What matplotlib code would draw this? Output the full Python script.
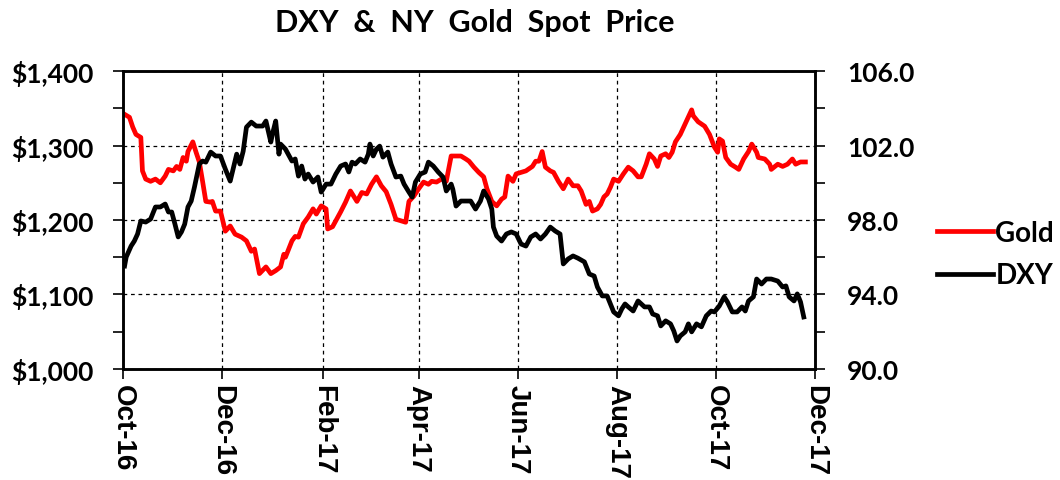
import matplotlib

matplotlib.use("Agg")
import numpy as np
import pandas as pd
import matplotlib.pyplot as plt
import matplotlib.dates as mdates
from matplotlib.ticker import MultipleLocator, FixedLocator, FuncFormatter
from matplotlib.lines import Line2D

# ---- values (day offsets from 2016-10-01) ----
START = pd.Timestamp("2016-10-01")

gold_day = [1, 4, 6, 8, 11, 12, 14, 17, 20, 23, 26, 28, 31, 33, 35, 37, 39, 40, 43, 45,
            47, 49, 51, 54, 55, 57, 60, 63, 66, 69, 73, 76, 79, 81, 84, 88, 91, 94, 97, 99,
            100, 104, 106, 108, 111, 114, 117, 119, 122, 125, 126, 129, 131, 134, 137, 140,
            144, 147, 150, 153, 156, 159, 162, 165, 168, 171, 174, 176, 179, 182, 185, 188,
            190, 193, 196, 199, 202, 205, 208, 211, 213, 216, 219, 222, 224, 227, 230, 233,
            235, 237, 240, 242, 245, 248, 252, 254, 256, 258, 260, 263, 265, 268, 271, 274,
            277, 280, 282, 285, 287, 289, 292, 294, 296, 298, 300, 302, 305, 308, 311, 314,
            317, 319, 322, 324, 327, 329, 331, 334, 336, 338, 340, 343, 346, 350, 351, 354,
            358, 361, 364, 366, 367, 369, 371, 374, 377, 379, 382, 385, 387, 390, 391, 395,
            398, 399, 403, 406, 409, 412, 414, 417, 420]
gold_px = [1342, 1338, 1325, 1315, 1311, 1266, 1255, 1252, 1255, 1250, 1259, 1268, 1266, 1272,
           1268, 1284, 1279, 1292, 1305, 1291, 1278, 1252, 1225, 1224, 1225, 1212, 1212, 1185,
           1192, 1181, 1177, 1172, 1158, 1161, 1128, 1137, 1128, 1132, 1137, 1154, 1150, 1172,
           1178, 1177, 1195, 1204, 1215, 1208, 1219, 1215, 1188, 1191, 1199, 1211, 1224, 1239,
           1225, 1237, 1235, 1248, 1258, 1246, 1238, 1221, 1201, 1199, 1197, 1225, 1232, 1242,
           1251, 1248, 1252, 1251, 1255, 1252, 1286, 1286, 1286, 1282, 1279, 1271, 1264, 1258,
           1242, 1225, 1219, 1228, 1231, 1259, 1252, 1262, 1264, 1266, 1272, 1279, 1279, 1292,
           1271, 1266, 1264, 1252, 1242, 1255, 1246, 1246, 1239, 1221, 1225, 1212, 1215, 1221,
           1231, 1235, 1244, 1255, 1252, 1262, 1271, 1266, 1258, 1258, 1275, 1289, 1282, 1272,
           1286, 1289, 1284, 1291, 1305, 1315, 1329, 1348, 1340, 1332, 1326, 1315, 1298, 1291,
           1309, 1306, 1284, 1275, 1271, 1268, 1282, 1292, 1302, 1291, 1284, 1282, 1275, 1268,
           1275, 1272, 1275, 1282, 1275, 1278, 1278]

dxy_day = [1, 2, 5, 7, 9, 11, 14, 17, 20, 23, 26, 28, 30, 32, 34, 36, 38, 40, 42, 44,
           47, 49, 51, 54, 57, 60, 63, 66, 70, 72, 74, 76, 79, 82, 86, 88, 91, 92, 94, 96,
           97, 100, 104, 106, 108, 110, 112, 114, 117, 120, 122, 125, 128, 131, 134, 137,
           139, 141, 143, 146, 149, 151, 152, 154, 156, 158, 160, 163, 165, 168, 171, 173,
           176, 178, 180, 183, 186, 188, 191, 194, 197, 199, 202, 203, 205, 208, 211, 214,
           217, 220, 222, 225, 227, 228, 230, 233, 236, 239, 242, 245, 248, 251, 254, 257,
           260, 263, 266, 269, 271, 274, 277, 280, 284, 287, 290, 292, 295, 298, 300, 302,
           305, 307, 309, 311, 314, 317, 321, 324, 326, 329, 331, 334, 337, 339, 341, 343,
           346, 348, 350, 353, 356, 359, 362, 364, 367, 370, 372, 375, 378, 381, 383, 385,
           388, 390, 393, 396, 399, 403, 406, 408, 410, 413, 415, 417, 419]
dxy_val = [95.53, 96.01, 96.60, 96.87, 97.25, 97.95, 97.89, 98.05, 98.70, 98.70, 98.86, 98.43,
           98.43, 97.78, 97.09, 97.36, 97.78, 98.70, 99.02, 99.77, 101.01, 101.17, 101.11,
           101.65, 101.44, 101.44, 100.74, 100.09, 101.54, 101.01, 101.70, 102.99, 103.26,
           103.05, 103.05, 103.32, 102.19, 102.62, 103.32, 101.54, 102.08, 101.81, 101.17,
           101.28, 100.36, 100.90, 100.20, 100.47, 100.04, 100.31, 99.50, 99.93, 99.93,
           100.47, 100.90, 101.01, 100.58, 101.11, 101.01, 101.28, 101.11, 101.54, 102.08,
           101.44, 101.81, 101.97, 101.38, 101.65, 101.01, 100.31, 100.36, 99.93, 99.50,
           99.23, 100.04, 100.47, 100.58, 101.11, 100.90, 100.58, 100.31, 99.56, 99.93, 99.66,
           98.75, 99.02, 99.02, 99.02, 98.59, 99.02, 99.56, 99.13, 98.59, 97.62, 97.14, 96.87,
           97.25, 97.36, 97.25, 96.71, 96.60, 97.09, 97.25, 96.98, 97.25, 97.62, 97.41, 97.25,
           95.64, 95.91, 96.07, 95.95, 95.75, 95.10, 94.99, 94.40, 93.92, 93.92, 93.49, 93.06,
           92.85, 93.22, 93.49, 93.33, 93.11, 93.65, 93.33, 93.33, 92.95, 92.85, 92.31, 92.58,
           92.42, 92.04, 91.50, 91.77, 91.99, 92.42, 91.99, 92.42, 92.26, 92.85, 93.11, 93.06,
           93.38, 93.87, 93.60, 93.06, 93.06, 93.33, 93.11, 93.65, 93.87, 94.83, 94.56, 94.83,
           94.83, 94.72, 94.40, 94.46, 93.87, 93.65, 94.03, 93.60, 92.79]

dxy_ticks = [90, 94, 98, 102, 106]

gold_dates = START + pd.to_timedelta(gold_day, unit="D")
dxy_dates = START + pd.to_timedelta(dxy_day, unit="D")

RED = "#ff0000"
TXT = "Lato"
LW = 3.4

fig = plt.figure(figsize=(10.6, 4.81), dpi=100)
ax = fig.add_axes([0.116, 0.231, 0.653, 0.619])
ax.plot(gold_dates, gold_px, color=RED, lw=LW, solid_joinstyle="round")
ax2 = ax.twinx()
ax2.plot(dxy_dates, dxy_val, color="black", lw=LW, solid_joinstyle="round")

ax.set_xlim(pd.Timestamp("2016-10-01"), pd.Timestamp("2017-12-01"))
ax.set_ylim(1000, 1400)
ax2.set_ylim(90, 106)

ax.xaxis.set_major_locator(mdates.MonthLocator(bymonth=[2, 4, 6, 8, 10, 12]))
ax.xaxis.set_major_formatter(mdates.DateFormatter("%b-%y"))
ax.yaxis.set_major_locator(MultipleLocator(100))
ax.yaxis.set_minor_locator(MultipleLocator(50))
ax.yaxis.set_major_formatter(FuncFormatter(lambda v, p: f"${v:,.0f}"))
ax2.yaxis.set_major_locator(FixedLocator(dxy_ticks))
ax2.yaxis.set_minor_locator(MultipleLocator(2))
ax2.yaxis.set_major_formatter(FuncFormatter(lambda v, p: f"{v:.1f}"))

ax.grid(True, which="major", ls=(0, (3, 3)), color="black", lw=0.9)

for a in (ax, ax2):
    for s in a.spines.values():
        s.set_linewidth(1.8)
ax.tick_params(axis="y", which="both", length=7, width=1.2, pad=14)
ax2.tick_params(axis="y", which="both", length=7, width=1.2, pad=16)
ax.tick_params(axis="x", length=7, width=1.2, pad=4)
for lab in ax.get_yticklabels() + ax2.get_yticklabels():
    lab.set_fontfamily(TXT)
    lab.set_fontweight("bold")
    lab.set_fontsize(19)
for lab in ax.get_xticklabels():
    lab.set_fontfamily("Liberation Sans")
    lab.set_fontweight("bold")
    lab.set_fontsize(20)
    lab.set_rotation(270)
    lab.set_ha("center")
    lab.set_va("top")

fig.text(0.448, 0.953, "DXY  &  NY  Gold  Spot  Price", ha="center", va="center",
         fontsize=22, fontweight="bold", family=TXT)

handles = [Line2D([], [], color=RED, lw=LW), Line2D([], [], color="black", lw=LW)]
fig.legend(handles, ["Gold", "DXY"], loc="center left", bbox_to_anchor=(0.884, 0.47),
           frameon=False, prop={"family": TXT, "weight": "bold", "size": 20},
           handlelength=2.0, handletextpad=0.1, labelspacing=0.6, borderpad=0,
           borderaxespad=0)

fig.savefig("out.png", dpi=100)
